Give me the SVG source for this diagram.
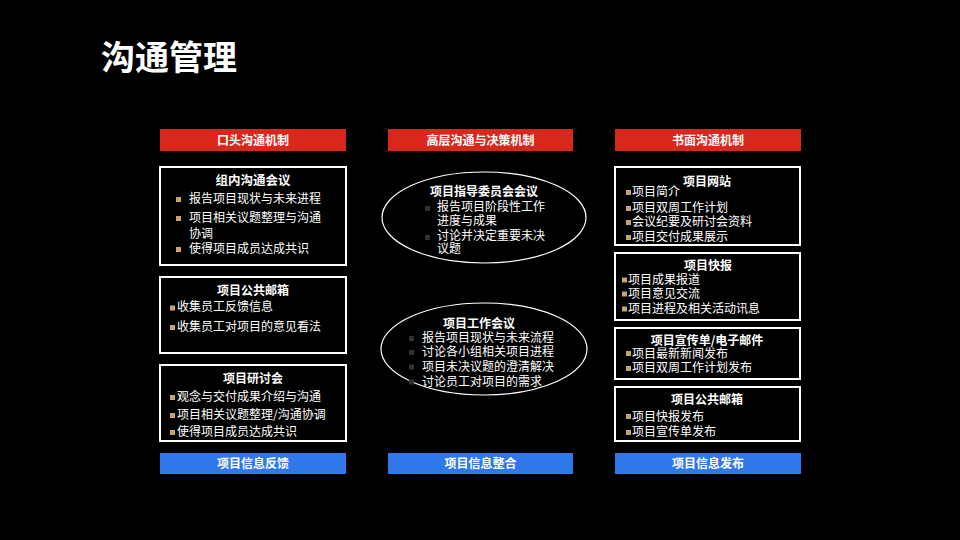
<svg xmlns="http://www.w3.org/2000/svg" width="960" height="540" viewBox="0 0 960 540">
<style>
text{font-family:"Noto Sans CJK SC","Noto Sans",sans-serif;fill:#fff}
.t{font-weight:bold;font-size:12px;text-anchor:middle}
.b{font-size:12px}
.box{fill:#000;stroke:#fff;stroke-width:2}
.ell{fill:#000;stroke:#fff;stroke-width:1.2}
.red{fill:#d8281d}
.blue{fill:#2f78ea}
.bu{fill:#c9a46c}
.db{fill:#333}
</style>
<rect width="960" height="540" fill="#000"/>
<text x="101" y="70" style="font-size:34px;font-weight:bold">沟通管理</text>

<g id="hdr1"><rect class="red" x="160" y="129" width="186" height="22"/><text class="t" x="253" y="144.5">口头沟通机制</text></g>
<g id="hdr2"><rect class="red" x="388" y="129" width="185" height="22"/><text class="t" x="480.5" y="144.5">高层沟通与决策机制</text></g>
<g id="hdr3"><rect class="red" x="615" y="129" width="186" height="22"/><text class="t" x="708" y="144.5">书面沟通机制</text></g>

<g id="c1b1">
<rect class="box" x="160" y="167" width="186" height="98"/>
<text class="t" x="253" y="185" style="font-size:12.5px">组内沟通会议</text>
<rect class="bu" x="176" y="197" width="5" height="5"/><text class="b" x="189" y="202.5">报告项目现状与未来进程</text>
<rect class="bu" x="176" y="216" width="5" height="5"/><text class="b" x="189" y="221.5">项目相关议题整理与沟通</text>
<text class="b" x="189" y="237.5">协调</text>
<rect class="bu" x="176" y="247" width="5" height="5"/><text class="b" x="189" y="253">使得项目成员达成共识</text>
</g>

<g id="c1b2">
<rect class="box" x="160" y="277" width="186" height="76"/>
<text class="t" x="253" y="294.5">项目公共邮箱</text>
<rect class="bu" x="170" y="305.5" width="5" height="5"/><text class="b" x="177" y="311">收集员工反馈信息</text>
<rect class="bu" x="170" y="325" width="5" height="5"/><text class="b" x="177" y="330.5">收集员工对项目的意见看法</text>
</g>

<g id="c1b3">
<rect class="box" x="160" y="365" width="186" height="76"/>
<text class="t" x="253" y="382.5">项目研讨会</text>
<rect class="bu" x="170" y="395" width="5" height="5"/><text class="b" x="177" y="400.5">观念与交付成果介绍与沟通</text>
<rect class="bu" x="170" y="413" width="5" height="5"/><text class="b" x="177" y="418.5">项目相关议题整理/沟通协调</text>
<rect class="bu" x="170" y="430" width="5" height="5"/><text class="b" x="177" y="435.5">使得项目成员达成共识</text>
</g>

<g id="c2e1">
<ellipse class="ell" cx="484" cy="217.5" rx="102" ry="45.5"/>
<text class="t" x="484" y="195.5">项目指导委员会会议</text>
<rect class="db" x="425" y="206" width="5" height="5"/><text class="b" x="437" y="211">报告项目阶段性工作</text>
<text class="b" x="437" y="224.5">进度与成果</text>
<rect class="db" x="425" y="235" width="5" height="5"/><text class="b" x="437" y="240">讨论并决定重要未决</text>
<text class="b" x="437" y="252.5">议题</text>
</g>

<g id="c2e2">
<ellipse class="ell" cx="484" cy="349" rx="103" ry="46"/>
<text class="t" x="479" y="327.5">项目工作会议</text>
<rect class="db" x="409" y="336" width="5" height="5"/><text class="b" x="422" y="342.3">报告项目现状与未来流程</text>
<rect class="db" x="409" y="350" width="5" height="5"/><text class="b" x="422" y="356.4">讨论各小组相关项目进程</text>
<rect class="db" x="409" y="364.5" width="5" height="5"/><text class="b" x="422" y="370.8">项目未决议题的澄清解决</text>
<rect class="db" x="409" y="379.5" width="5" height="5"/><text class="b" x="422" y="385.6">讨论员工对项目的需求</text>
</g>

<g id="c3b1">
<rect class="box" x="615" y="167" width="185" height="78"/>
<text class="t" x="707" y="185.5">项目网站</text>
<rect class="bu" x="626" y="190" width="5" height="5"/><text class="b" x="632" y="196.3">项目简介</text>
<rect class="bu" x="626" y="206" width="5" height="5"/><text class="b" x="632" y="212.3">项目双周工作计划</text>
<rect class="bu" x="626" y="220" width="5" height="5"/><text class="b" x="632" y="226.3">会议纪要及研讨会资料</text>
<rect class="bu" x="626" y="235" width="5" height="5"/><text class="b" x="632" y="241.3">项目交付成果展示</text>
</g>

<g id="c3b2">
<rect class="box" x="615" y="253" width="185" height="67"/>
<text class="t" x="708" y="269.5">项目快报</text>
<rect class="bu" x="622" y="277.5" width="5" height="5"/><text class="b" x="628" y="284">项目成果报道</text>
<rect class="bu" x="622" y="291.5" width="5" height="5"/><text class="b" x="628" y="298">项目意见交流</text>
<rect class="bu" x="622" y="306.5" width="5" height="5"/><text class="b" x="628" y="313">项目进程及相关活动讯息</text>
</g>

<g id="c3b3">
<rect class="box" x="615" y="328" width="185" height="51"/>
<text class="t" x="707" y="344.5">项目宣传单/电子邮件</text>
<rect class="bu" x="626" y="351" width="5" height="5"/><text class="b" x="632" y="357.5">项目最新新闻发布</text>
<rect class="bu" x="626" y="366" width="5" height="5"/><text class="b" x="632" y="372.3">项目双周工作计划发布</text>
</g>

<g id="c3b4">
<rect class="box" x="615" y="387" width="185" height="54"/>
<text class="t" x="707" y="404">项目公共邮箱</text>
<rect class="bu" x="626" y="414" width="5" height="5"/><text class="b" x="632" y="420.5">项目快报发布</text>
<rect class="bu" x="626" y="430" width="5" height="5"/><text class="b" x="632" y="436.3">项目宣传单发布</text>
</g>

<g id="ftr1"><rect class="blue" x="160" y="453" width="186" height="21"/><text class="t" x="253" y="468">项目信息反馈</text></g>
<g id="ftr2"><rect class="blue" x="388" y="453" width="185" height="21"/><text class="t" x="480.5" y="468">项目信息整合</text></g>
<g id="ftr3"><rect class="blue" x="615" y="453" width="186" height="21"/><text class="t" x="708" y="468">项目信息发布</text></g>
<g id="connectors"></g>
</svg>
